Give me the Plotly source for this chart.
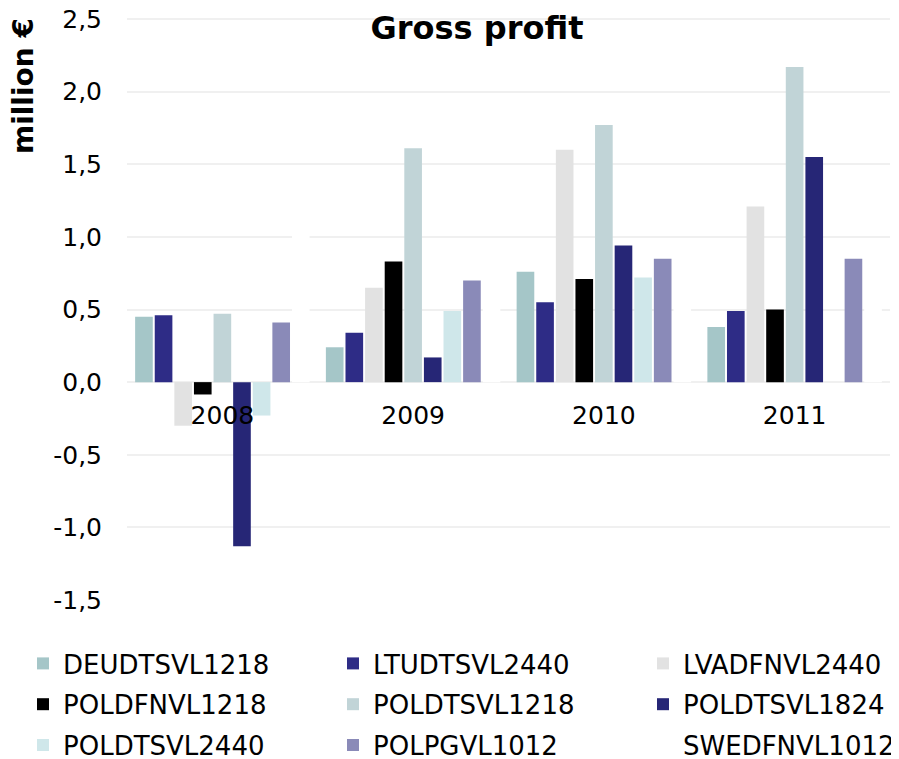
import plotly.graph_objects as go

years = ["2008", "2009", "2010", "2011"]
series_names = [
    "DEUDTSVL1218", "LTUDTSVL2440", "LVADFNVL2440",
    "POLDFNVL1218", "POLDTSVL1218", "POLDTSVL1824",
    "POLDTSVL2440", "POLPGVL1012", "SWEDFNVL1012",
]
DEUDTSVL1218 = [0.45, 0.24, 0.76, 0.38]
LTUDTSVL2440 = [0.46, 0.34, 0.55, 0.49]
LVADFNVL2440 = [-0.30, 0.65, 1.60, 1.21]
POLDFNVL1218 = [-0.085, 0.83, 0.71, 0.50]
POLDTSVL1218 = [0.47, 1.61, 1.77, 2.17]
POLDTSVL1824 = [-1.13, 0.17, 0.94, 1.55]
POLDTSVL2440 = [-0.23, 0.49, 0.72, 0.0]
POLPGVL1012 = [0.41, 0.70, 0.85, 0.85]
SWEDFNVL1012 = [1.2, 0.8, 0.8, 0.8]
values = [DEUDTSVL1218, LTUDTSVL2440, LVADFNVL2440, POLDFNVL1218,
          POLDTSVL1218, POLDTSVL1824, POLDTSVL2440, POLPGVL1012, SWEDFNVL1012]
colors = ["#A5C6C8", "#2E2C86", "#E2E2E2", "#000000", "#C1D4D7",
          "#262676", "#CFE7EA", "#8A8AB8", "#FFFFFF"]
y_ticks = [-1.5, -1.0, -0.5, 0.0, 0.5, 1.0, 1.5, 2.0, 2.5]
y_ticktext = ["-1,5", "-1,0", "-0,5", "0,0", "0,5", "1,0", "1,5", "2,0", "2,5"]

FONT = "DejaVu Sans"
OFF = 8  # page body margin
W, H = 899 - OFF, 759 - OFF
L, R, T, B = 127 - OFF, 9, 18 - OFF, 159
pw, ph = W - L - R, H - T - B
Y_MIN, Y_MAX = -1.5, 2.507

def px_to_paper(x, y):
    # x, y are page pixel coordinates (reference picture)
    return (x - OFF - L) / pw, (H - B - (y - OFF)) / ph

legend_ids = ["legend", "legend2", "legend3"]
fig = go.Figure()
for i, (name, vals, col) in enumerate(zip(series_names, values, colors)):
    fig.add_trace(go.Bar(name=name, x=years, y=vals, marker_color=col,
                         marker_line_width=0, legend=legend_ids[i % 3],
                         legendgroup=name))

ax, ay = px_to_paper(23, 86)
col_x = [23, 333, 643]
legend_cfg = {}
for lid, cx in zip(legend_ids, col_x):
    lx, ly = px_to_paper(cx, 640)
    legend_cfg[lid] = dict(orientation="v", x=lx, y=ly, xanchor="left",
                           yanchor="top", tracegroupgap=4,
                           font=dict(family=FONT, size=26), itemwidth=30,
                           traceorder="grouped", bgcolor="rgba(0,0,0,0)")

fig.update_layout(
    width=W, height=H,
    margin=dict(l=L, r=R, t=T, b=B, pad=0, autoexpand=False),
    paper_bgcolor="white", plot_bgcolor="white",
    font=dict(family=FONT, size=25, color="#000000"),
    barmode="group", bargap=0.075, bargroupgap=0.10,
    title=dict(text="<b>Gross profit</b>", font=dict(family=FONT, size=32),
               x=(477 - OFF) / W, xref="container", xanchor="center",
               y=1 - (28 - OFF) / H, yref="container", yanchor="middle"),
    xaxis=dict(anchor="free", position=(0 - Y_MIN) / (Y_MAX - Y_MIN),
               showline=False, showgrid=False,
               zeroline=False, ticks="", ticklabelstandoff=16, automargin=False,
               tickfont=dict(family=FONT, size=25)),
    yaxis=dict(range=[Y_MIN, Y_MAX], tickvals=y_ticks, ticktext=y_ticktext,
               showgrid=True, gridcolor="#F0F0F0", gridwidth=2, automargin=False,
               zeroline=True, zerolinecolor="#F0F0F0", zerolinewidth=2,
               showline=False, ticks="", ticklabelstandoff=24,
               ticklabeloverflow="allow",
               tickfont=dict(family=FONT, size=25)),
    showlegend=True,
    annotations=[dict(text="<b>million €</b>", textangle=-90,
                      xref="paper", yref="paper", x=ax, y=ay,
                      xanchor="center", yanchor="middle", showarrow=False,
                      font=dict(family=FONT, size=28))],
    **legend_cfg,
)
fig.write_html("out.html")
